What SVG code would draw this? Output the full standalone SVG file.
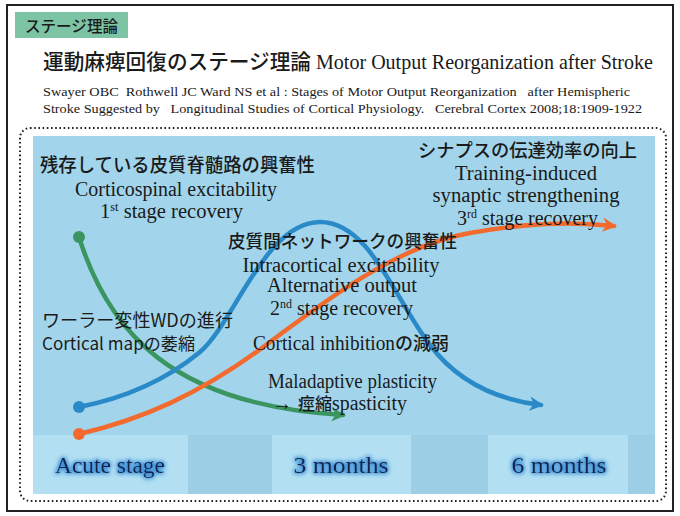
<svg xmlns="http://www.w3.org/2000/svg" width="680" height="516" viewBox="0 0 680 516">
<defs>
<style>
.jp{font-family:"Noto Sans CJK JP","Noto Sans",sans-serif;fill:#1a1a1a;font-weight:500}
.jpn{font-family:"Noto Sans CJK JP","Noto Sans",sans-serif;fill:#1a1a1a;font-weight:400}
.sf{font-family:"Liberation Serif","DejaVu Serif",serif;fill:#1a1a1a}
.lbl{font-family:"Liberation Serif","DejaVu Serif",serif;font-size:24px;fill:#16244a;text-anchor:middle}
.curve{fill:none;stroke-width:4.5;stroke-linecap:round}
</style>
<marker id="ag" viewBox="0 0 10 10" refX="8" refY="5" markerWidth="3.2" markerHeight="3.2" orient="auto" markerUnits="strokeWidth"><path d="M0,0 L10,5 L0,10 L3,5 Z" fill="#3a9560"/></marker>
<marker id="ab" viewBox="0 0 10 10" refX="8" refY="5" markerWidth="3.2" markerHeight="3.2" orient="auto" markerUnits="strokeWidth"><path d="M0,0 L10,5 L0,10 L3,5 Z" fill="#2a8ac8"/></marker>
<marker id="ao" viewBox="0 0 10 10" refX="8" refY="5" markerWidth="3.2" markerHeight="3.2" orient="auto" markerUnits="strokeWidth"><path d="M0,0 L10,5 L0,10 L3,5 Z" fill="#f26a2e"/></marker>
<filter id="glow" x="-20%" y="-40%" width="140%" height="180%">
<feMorphology in="SourceAlpha" operator="dilate" radius="1.4" result="d"/>
<feGaussianBlur in="d" stdDeviation="2" result="b"/>
<feFlood flood-color="#2f86d6"/>
<feComposite in2="b" operator="in" result="g"/>
<feMerge><feMergeNode in="g"/><feMergeNode in="SourceGraphic"/></feMerge>
</filter>
</defs>
<rect x="0" y="0" width="680" height="516" fill="#ffffff"/>
<rect x="7" y="5" width="666" height="506" fill="none" stroke="#222" stroke-width="2"/>

<g id="header">
<rect x="15" y="12" width="113" height="26" fill="#7cc4a4"/>
<text class="jp" x="25" y="32" font-size="16" textLength="93" lengthAdjust="spacingAndGlyphs">ステージ理論</text>
<text class="jp" x="43" y="69" font-size="21" textLength="268" lengthAdjust="spacingAndGlyphs">運動麻痺回復のステージ理論</text>
<text class="sf" x="316" y="69" font-size="21" textLength="337" lengthAdjust="spacingAndGlyphs">Motor Output Reorganization after Stroke</text>
<text class="sf" x="43" y="96" font-size="13.5" textLength="587" lengthAdjust="spacingAndGlyphs" xml:space="preserve">Swayer OBC  Rothwell JC Ward NS et al : Stages of Motor Output Reorganization   after Hemispheric</text>
<text class="sf" x="43" y="113" font-size="13.5" textLength="599" lengthAdjust="spacingAndGlyphs" xml:space="preserve">Stroke Suggested by   Longitudinal Studies of Cortical Physiology.   Cerebral Cortex 2008;18:1909-1922</text>
</g>

<g id="panel">
<rect x="20" y="128" width="646" height="373" rx="10" fill="none" stroke="#222" stroke-width="2" stroke-dasharray="1.6 2.6"/>
<rect x="33" y="136" width="622" height="358" fill="#a2d5eb"/>
<rect x="33" y="435" width="155" height="59" fill="#b2e0f2"/>
<rect x="188" y="435" width="84" height="59" fill="#9ccfe6"/>
<rect x="272" y="435" width="139" height="59" fill="#b2e0f2"/>
<rect x="411" y="435" width="77" height="59" fill="#9ccfe6"/>
<rect x="488" y="435" width="140" height="59" fill="#b2e0f2"/>
<rect x="628" y="435" width="27" height="59" fill="#9ccfe6"/>
</g>

<g id="connectors">
<path class="curve" d="M79,237 C108,330 170,405 343,415" stroke="#3a9560" marker-end="url(#ag)"/>
<path class="curve" d="M79,407 C115,400 160,385 200,352 C235,322 265,222 320,222 C370,222 395,300 430,345 C460,385 500,400 541,405" stroke="#2a8ac8" marker-end="url(#ab)"/>
<path class="curve" d="M79,434 C140,420 200,395 270,342 C330,297 400,245 470,233 C530,222 580,222 614,226" stroke="#f26a2e" stroke-width="5" marker-end="url(#ao)"/>
<circle cx="79" cy="237" r="6" fill="#3a9560"/>
<circle cx="79" cy="407" r="6" fill="#2a8ac8"/>
<circle cx="79" cy="434" r="6" fill="#f26a2e"/>
</g>

<g id="stage1">
<text class="jp" x="40" y="172" font-size="19" textLength="275" lengthAdjust="spacingAndGlyphs">残存している皮質脊髄路の興奮性</text>
<text class="sf" x="176" y="196" font-size="20" text-anchor="middle" textLength="202" lengthAdjust="spacingAndGlyphs">Corticospinal excitability</text>
<text class="sf" x="100" y="218" font-size="20" textLength="143" lengthAdjust="spacingAndGlyphs">1<tspan font-size="12" dy="-7">st</tspan><tspan dy="7"> stage recovery</tspan></text>
</g>

<g id="stage3">
<text class="jp" x="418" y="157" font-size="18.5" textLength="219" lengthAdjust="spacingAndGlyphs">シナプスの伝達効率の向上</text>
<text class="sf" x="526" y="180" font-size="20" text-anchor="middle" textLength="142" lengthAdjust="spacingAndGlyphs">Training-induced</text>
<text class="sf" x="526" y="202" font-size="20" text-anchor="middle" textLength="187" lengthAdjust="spacingAndGlyphs">synaptic strengthening</text>
<text class="sf" x="457" y="225" font-size="20" textLength="141" lengthAdjust="spacingAndGlyphs">3<tspan font-size="12" dy="-7">rd</tspan><tspan dy="7"> stage recovery</tspan></text>
</g>

<g id="stage2">
<text class="jp" x="228" y="248" font-size="18" textLength="229" lengthAdjust="spacingAndGlyphs">皮質間ネットワークの興奮性</text>
<text class="sf" x="341" y="272" font-size="20" text-anchor="middle" textLength="197" lengthAdjust="spacingAndGlyphs">Intracortical excitability</text>
<text class="sf" x="342" y="292" font-size="20" text-anchor="middle" textLength="150" lengthAdjust="spacingAndGlyphs">Alternative output</text>
<text class="sf" x="270" y="315" font-size="20" textLength="143" lengthAdjust="spacingAndGlyphs">2<tspan font-size="12" dy="-7">nd</tspan><tspan dy="7"> stage recovery</tspan></text>
<text x="253" y="350" font-size="20"><tspan class="sf" textLength="142" lengthAdjust="spacingAndGlyphs">Cortical inhibition</tspan><tspan class="jp" font-size="18">の減弱</tspan></text>
</g>

<g id="wd">
<text class="jpn" x="42" y="327" font-size="18" textLength="191" lengthAdjust="spacingAndGlyphs">ワーラー変性WDの進行</text>
<text class="jpn" x="42" y="350" font-size="17" textLength="153" lengthAdjust="spacingAndGlyphs">Cortical mapの萎縮</text>
</g>

<g id="maladaptive">
<text class="sf" x="268" y="388" font-size="20" textLength="169" lengthAdjust="spacingAndGlyphs">Maladaptive plasticity</text>
<text x="272" y="410" font-size="20"><tspan class="sf">→</tspan><tspan class="jp" font-size="17" x="298">痙縮</tspan><tspan class="sf" textLength="75" lengthAdjust="spacingAndGlyphs">spasticity</tspan></text>
</g>

<g id="timeline" filter="url(#glow)">
<text class="lbl" x="110" y="473" textLength="110" lengthAdjust="spacingAndGlyphs">Acute stage</text>
<text class="lbl" x="341" y="473" textLength="95" lengthAdjust="spacingAndGlyphs">3 months</text>
<text class="lbl" x="559" y="473" textLength="95" lengthAdjust="spacingAndGlyphs">6 months</text>
</g>
</svg>
